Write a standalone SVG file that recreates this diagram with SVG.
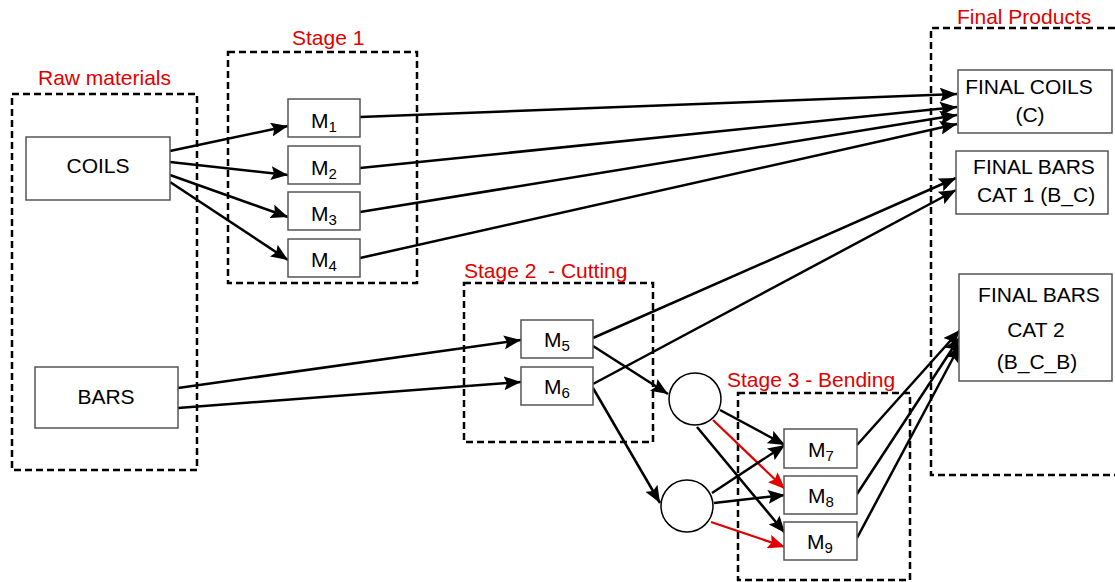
<svg xmlns="http://www.w3.org/2000/svg" width="1115" height="582" viewBox="0 0 1115 582">
<style>
.grp{fill:none;stroke:#000;stroke-width:2.5;stroke-dasharray:7 4}
.box{fill:#fff;stroke:#555;stroke-width:1.5}
.lbl{font-family:"Liberation Sans",Arial,sans-serif;font-size:21px;fill:#e00000}
.t{font-family:"Liberation Sans",Arial,sans-serif;font-size:21px;fill:#000;text-anchor:middle}
.sub{font-size:15px}
.k{fill:none;stroke:#000;stroke-width:2.5}
.r{fill:none;stroke:#e00000;stroke-width:2.2}
</style>
<defs>
<marker id="ab" markerUnits="userSpaceOnUse" markerWidth="18" markerHeight="14" refX="17" refY="7" orient="auto"><path d="M0,0 L17,7 L0,14 L3,7 z" fill="#000"/></marker>
<marker id="ar" markerUnits="userSpaceOnUse" markerWidth="18" markerHeight="14" refX="17" refY="7" orient="auto"><path d="M0,0 L17,7 L0,14 L3,7 z" fill="#e00000"/></marker>
</defs>
<rect width="1115" height="582" fill="#fff"/>
<g id="groups">
<rect class="grp" x="12" y="94" width="185" height="376"/>
<text class="lbl" x="38" y="85">Raw materials</text>
<rect class="grp" x="228" y="52" width="189" height="231"/>
<text class="lbl" x="292" y="45">Stage 1</text>
<rect class="grp" x="464" y="283" width="189" height="159"/>
<text class="lbl" x="464" y="278" xml:space="preserve">Stage 2  - Cutting</text>
<rect class="grp" x="738" y="393" width="172" height="187"/>
<text class="lbl" x="727" y="387">Stage 3 - Bending</text>
<path class="grp" d="M1115,28 H931 V475 H1115"/>
<text class="lbl" x="957" y="24">Final Products</text>
</g>
<g id="connectors">
<line class="k" x1="170" y1="151" x2="288" y2="126" marker-end="url(#ab)"/>
<line class="k" x1="170" y1="162" x2="288" y2="175" marker-end="url(#ab)"/>
<line class="k" x1="170" y1="175" x2="288" y2="217" marker-end="url(#ab)"/>
<line class="k" x1="170" y1="182" x2="288" y2="260" marker-end="url(#ab)"/>
<line class="k" x1="360" y1="117" x2="957" y2="94" marker-end="url(#ab)"/>
<line class="k" x1="360" y1="168" x2="957" y2="107" marker-end="url(#ab)"/>
<line class="k" x1="360" y1="212" x2="957" y2="115" marker-end="url(#ab)"/>
<line class="k" x1="360" y1="258" x2="957" y2="124" marker-end="url(#ab)"/>
<line class="k" x1="178" y1="388" x2="521" y2="340" marker-end="url(#ab)"/>
<line class="k" x1="178" y1="408" x2="521" y2="382" marker-end="url(#ab)"/>
<line class="k" x1="593" y1="338" x2="956" y2="178" marker-end="url(#ab)"/>
<line class="k" x1="593" y1="384" x2="956" y2="190" marker-end="url(#ab)"/>
<line class="k" x1="593" y1="346" x2="668" y2="394" marker-end="url(#ab)"/>
<line class="k" x1="593" y1="388" x2="660" y2="503" marker-end="url(#ab)"/>
<line class="k" x1="720" y1="410" x2="785" y2="445" marker-end="url(#ab)"/>
<line class="r" x1="713" y1="420" x2="785" y2="489" marker-end="url(#ar)"/>
<line class="k" x1="697" y1="427" x2="785" y2="533" marker-end="url(#ab)"/>
<line class="k" x1="712" y1="493" x2="785" y2="445" marker-end="url(#ab)"/>
<line class="k" x1="714" y1="503" x2="785" y2="495" marker-end="url(#ab)"/>
<line class="r" x1="711" y1="522" x2="785" y2="547" marker-end="url(#ar)"/>
<line class="k" x1="857" y1="445" x2="960" y2="330" marker-end="url(#ab)"/>
<line class="k" x1="857" y1="494" x2="960" y2="337" marker-end="url(#ab)"/>
<line class="k" x1="857" y1="538" x2="960" y2="345" marker-end="url(#ab)"/>
</g>
<g id="coils"><rect class="box" x="26" y="137" width="144" height="63"/><text class="t" x="98" y="173">COILS</text></g>
<g id="bars"><rect class="box" x="35" y="367" width="143" height="61"/><text class="t" x="106" y="404">BARS</text></g>
<g id="m1"><rect class="box" x="288" y="99" width="72" height="38"/><text class="t" x="324" y="128">M<tspan class="sub" dy="4">1</tspan></text></g>
<g id="m2"><rect class="box" x="288" y="146" width="72" height="38"/><text class="t" x="324" y="175">M<tspan class="sub" dy="4">2</tspan></text></g>
<g id="m3"><rect class="box" x="288" y="192" width="72" height="38"/><text class="t" x="324" y="221">M<tspan class="sub" dy="4">3</tspan></text></g>
<g id="m4"><rect class="box" x="288" y="239" width="72" height="38"/><text class="t" x="324" y="267">M<tspan class="sub" dy="4">4</tspan></text></g>
<g id="m5"><rect class="box" x="521" y="320" width="72" height="38"/><text class="t" x="557" y="347">M<tspan class="sub" dy="4">5</tspan></text></g>
<g id="m6"><rect class="box" x="521" y="367" width="72" height="38"/><text class="t" x="557" y="394">M<tspan class="sub" dy="4">6</tspan></text></g>
<g id="split1"><circle cx="695" cy="399" r="26" fill="#fff" stroke="#000" stroke-width="1.5"/></g>
<g id="split2"><circle cx="687" cy="506" r="26" fill="#fff" stroke="#000" stroke-width="1.5"/></g>
<g id="m7"><rect class="box" x="784" y="429" width="73" height="39"/><text class="t" x="821" y="457">M<tspan class="sub" dy="4">7</tspan></text></g>
<g id="m8"><rect class="box" x="784" y="476" width="73" height="38"/><text class="t" x="821" y="503">M<tspan class="sub" dy="4">8</tspan></text></g>
<g id="m9"><rect class="box" x="784" y="522" width="73" height="38"/><text class="t" x="820" y="549">M<tspan class="sub" dy="4">9</tspan></text></g>
<g id="final-coils"><rect class="box" x="958" y="70" width="154" height="63"/><text class="t" x="1029" y="94">FINAL COILS</text><text class="t" x="1030" y="122">(C)</text></g>
<g id="final-bars-1"><rect class="box" x="956" y="151" width="152" height="63"/><text class="t" x="1034" y="174">FINAL BARS</text><text class="t" x="1036" y="202">CAT 1 (B_C)</text></g>
<g id="final-bars-2"><rect class="box" x="959" y="274" width="153" height="107"/><text class="t" x="1039" y="302">FINAL BARS</text><text class="t" x="1036" y="337">CAT 2</text><text class="t" x="1037" y="369">(B_C_B)</text></g>
</svg>
